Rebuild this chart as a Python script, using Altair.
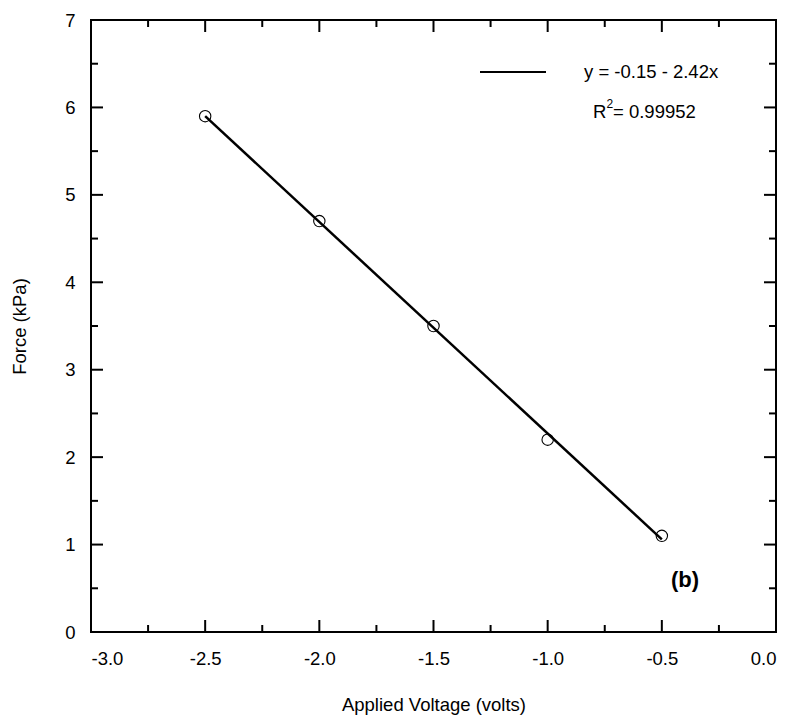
import altair as alt
import pandas as pd

# ---- data ----
volts = [-2.5, -2.0, -1.5, -1.0, -0.5]
force = [5.9, 4.7, 3.5, 2.2, 1.1]
fit_x = [-2.5, -0.5]
fit_y = [5.90, 1.06]

x_major = [-3.0, -2.5, -2.0, -1.5, -1.0, -0.5, 0.0]
x_minor = [-2.75, -2.25, -1.75, -1.25, -0.75, -0.25]
y_major = [0, 1, 2, 3, 4, 5, 6, 7]
y_minor = [0.5, 1.5, 2.5, 3.5, 4.5, 5.5, 6.5]

eq_text = "y = -0.15 - 2.42x"
r2_text = "= 0.99952"
panel_label = "(b)"

W, H = 685, 612
FONT = "Liberation Sans"
FS = 18.5

xs = alt.Scale(domain=[-3.0, 0.0], nice=False, zero=False)
ys = alt.Scale(domain=[0, 7], nice=False, zero=False)

pts_df = pd.DataFrame({"v": volts, "f": force})
fit_df = pd.DataFrame({"v": fit_x, "f": fit_y})

base_x = alt.X("v:Q", scale=xs,
               axis=alt.Axis(values=x_major, title="Applied Voltage (volts)",
                             labelExpr="(datum.value < 0 ? '-' : '') + format(abs(datum.value), '.1f')",
                             ticks=False, domain=False, grid=False,
                             labelFontSize=FS, labelFont=FONT, labelColor="black",
                             labelPadding=17, titleFontSize=FS, titleFont=FONT,
                             titleFontWeight="normal", titleColor="black", titlePadding=28))
base_y = alt.Y("f:Q", scale=ys,
               axis=alt.Axis(values=y_major, format="d", title="Force (kPa)",
                             ticks=False, domain=False, grid=False,
                             labelFontSize=FS, labelFont=FONT, labelColor="black",
                             labelPadding=16, titleFontSize=FS, titleFont=FONT,
                             titleFontWeight="normal", titleColor="black", titlePadding=35))

line = alt.Chart(fit_df).mark_line(color="black", strokeWidth=2.5).encode(x=base_x, y=base_y)
points = alt.Chart(pts_df).mark_point(shape="circle", filled=False, color="black",
                                      size=130, strokeWidth=1.1, opacity=1).encode(
    x=alt.X("v:Q", scale=xs), y=alt.Y("f:Q", scale=ys))


def xticks(vals, length):
    df = pd.DataFrame({"v": vals})
    b = alt.Chart(df).mark_rule(color="black", strokeWidth=2).encode(
        x=alt.X("v:Q", scale=xs), y=alt.value(H), y2=alt.value(H - length))
    t = alt.Chart(df).mark_rule(color="black", strokeWidth=2).encode(
        x=alt.X("v:Q", scale=xs), y=alt.value(0), y2=alt.value(length))
    return [b, t]


def yticks(vals, length):
    df = pd.DataFrame({"f": vals})
    l = alt.Chart(df).mark_rule(color="black", strokeWidth=2).encode(
        y=alt.Y("f:Q", scale=ys), x=alt.value(0), x2=alt.value(length))
    r = alt.Chart(df).mark_rule(color="black", strokeWidth=2).encode(
        y=alt.Y("f:Q", scale=ys), x=alt.value(W), x2=alt.value(W - length))
    return [l, r]


ticks = xticks(x_major, 12) + xticks(x_minor, 7) + yticks(y_major, 12) + yticks(y_minor, 7)

ann_df = pd.DataFrame({"a": [0]})
leg_line = alt.Chart(ann_df).mark_rule(color="black", strokeWidth=2).encode(
    x=alt.value(389), x2=alt.value(455), y=alt.value(52))
leg_eq = alt.Chart(ann_df).mark_text(align="left", baseline="middle", font=FONT,
                                     fontSize=FS, color="black", text=eq_text).encode(
    x=alt.value(493), y=alt.value(52))
leg_R = alt.Chart(ann_df).mark_text(align="left", baseline="middle", font=FONT,
                                    fontSize=FS, color="black", text="R").encode(
    x=alt.value(502), y=alt.value(92))
leg_2 = alt.Chart(ann_df).mark_text(align="left", baseline="middle", font=FONT,
                                    fontSize=12, color="black", text="2").encode(
    x=alt.value(515.5), y=alt.value(84))
leg_r2 = alt.Chart(ann_df).mark_text(align="left", baseline="middle", font=FONT,
                                     fontSize=FS, color="black", text=r2_text).encode(
    x=alt.value(522), y=alt.value(92))
lab_b = alt.Chart(ann_df).mark_text(align="center", baseline="middle", font=FONT,
                                    fontSize=22, fontWeight="bold", color="black",
                                    text=panel_label).encode(
    x=alt.value(594), y=alt.value(560))

chart = alt.layer(line, points, *ticks, leg_line, leg_eq, leg_R, leg_2, leg_r2, lab_b).properties(
    width=W, height=H,
    autosize=alt.AutoSizeParams(type="none"),
    padding={"left": 91, "top": 20, "right": 19, "bottom": 87},
    background="white",
).configure_view(stroke="black", strokeWidth=2)

chart.save("out.html", embed_options={"renderer": "svg", "actions": False})
